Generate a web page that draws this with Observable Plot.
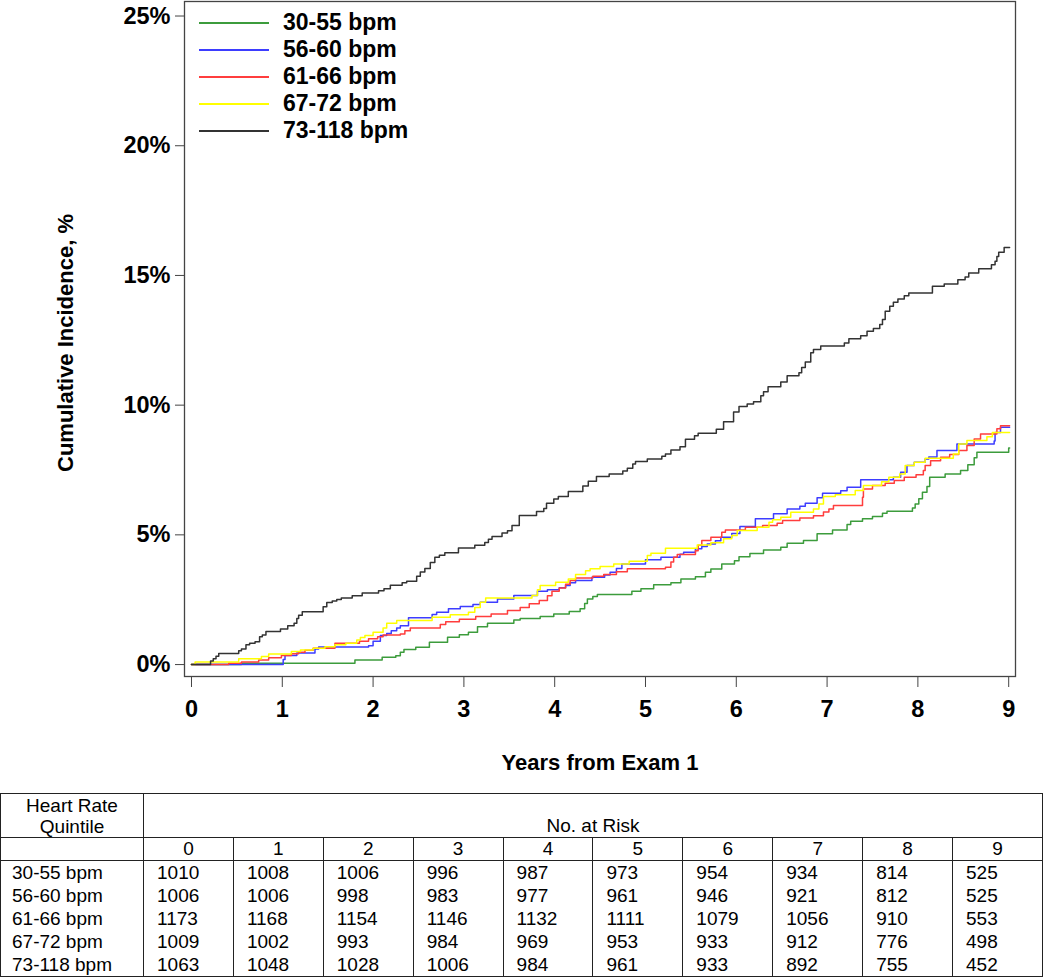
<!DOCTYPE html>
<html><head><meta charset="utf-8">
<script src="https://cdn.jsdelivr.net/npm/d3@7"></script>
<script src="https://cdn.jsdelivr.net/npm/@observablehq/plot@0.6"></script>
<style>
body{margin:0;background:#fff;font-family:"Liberation Sans",Arial,sans-serif;color:#000;}
#wrap{position:relative;width:1050px;}
#legend{position:absolute;left:199px;top:9px;font-size:23px;font-weight:bold;}
#legend .row{display:flex;align-items:center;height:27px;}
#legend .sw{display:block;width:70px;height:2px;margin-right:14px;}
table{border-collapse:collapse;margin-top:3px;width:1042px;table-layout:fixed;font-size:19px;}
td{border-left:1px solid #222;border-right:1px solid #222;padding:0 0 0 13px;height:23px;line-height:20px;white-space:nowrap;}
tr.h1 td{height:43px;border-top:1px solid #222;border-bottom:1px solid #222;}
tr.h1 td.q{text-align:center;padding:0;line-height:21px;vertical-align:middle;}
tr.h1 td.nr{text-align:center;padding:0;vertical-align:bottom;line-height:22px;}
tr.h2 td{border-bottom:1px solid #222;text-align:center;padding:0;height:22px;}
tr.last td{border-bottom:1px solid #222;}
td.lab{padding-left:11px;}
</style></head><body>
<div id="wrap"><div id="chart"></div><div id="legend"></div></div>
<table id="risk"></table>
<script>
// ---- Data ----
const groups = ["30-55 bpm","56-60 bpm","61-66 bpm","67-72 bpm","73-118 bpm"];
const colors = ["#3c9c3c","#3d3dff","#ff3d3d","#ffff00","#333333"];

// Cumulative incidence step curves (year, %)
const hr30_55 = [[0,0],[0.55,0.05],[1.80,0.18],[2.10,0.28],[2.25,0.34],[2.30,0.47],[2.34,0.58],[2.47,0.67],[2.62,0.86],[2.82,1.05],[2.95,1.15],[3.05,1.25],[3.15,1.46],[3.26,1.59],[3.55,1.72],[3.62,1.78],[3.84,1.85],[3.99,1.95],[4.16,2.05],[4.28,2.15],[4.33,2.35],[4.36,2.53],[4.42,2.62],[4.47,2.70],[4.85,2.83],[4.95,2.92],[5.09,3.08],[5.28,3.15],[5.39,3.30],[5.55,3.39],[5.66,3.56],[5.72,3.68],[5.84,3.88],[5.98,4.00],[6.03,4.16],[6.15,4.28],[6.30,4.42],[6.49,4.52],[6.56,4.68],[6.74,4.78],[6.89,5.04],[7.06,5.19],[7.22,5.40],[7.26,5.52],[7.39,5.62],[7.50,5.71],[7.61,5.83],[7.66,5.91],[7.94,6.04],[7.97,6.19],[8.01,6.39],[8.05,6.64],[8.10,6.86],[8.13,7.22],[8.30,7.35],[8.47,7.48],[8.55,7.70],[8.62,7.97],[8.65,8.18],[9.00,8.35],[9.01,8.35]];
const hr56_60 = [[0,0],[1.01,0.20],[1.03,0.35],[1.16,0.45],[1.36,0.60],[1.40,0.68],[1.95,0.73],[2.00,0.90],[2.08,1.12],[2.15,1.20],[2.20,1.30],[2.26,1.41],[2.30,1.50],[2.39,1.80],[2.65,1.93],[2.70,2.02],[2.83,2.15],[2.96,2.24],[3.10,2.32],[3.18,2.40],[3.37,2.53],[3.55,2.66],[3.81,2.83],[3.92,2.88],[4.05,2.96],[4.12,3.05],[4.17,3.15],[4.23,3.24],[4.41,3.37],[4.55,3.45],[4.61,3.56],[4.68,3.70],[4.74,3.88],[5.00,4.04],[5.17,4.14],[5.38,4.25],[5.42,4.33],[5.55,4.46],[5.62,4.55],[5.68,4.65],[5.77,4.77],[5.83,4.91],[5.95,5.05],[6.04,5.32],[6.21,5.62],[6.41,5.81],[6.56,6.00],[6.70,6.10],[6.76,6.22],[6.89,6.43],[6.95,6.60],[7.15,6.70],[7.22,6.84],[7.37,7.12],[7.73,7.22],[7.81,7.41],[7.88,7.67],[7.96,7.80],[8.08,7.92],[8.12,8.00],[8.21,8.25],[8.43,8.50],[8.84,8.62],[8.85,8.95],[8.91,9.15],[9.01,9.15]];
const hr61_66 = [[0,0],[0.41,0.05],[0.55,0.10],[0.74,0.18],[0.85,0.26],[0.99,0.35],[1.10,0.42],[1.18,0.47],[1.25,0.55],[1.34,0.63],[1.58,0.82],[1.85,0.90],[1.95,1.00],[2.05,1.07],[2.11,1.14],[2.30,1.18],[2.35,1.30],[2.41,1.41],[2.74,1.54],[2.80,1.65],[2.95,1.75],[3.13,1.85],[3.30,1.95],[3.48,2.08],[3.62,2.20],[3.72,2.34],[3.83,2.47],[3.92,2.65],[3.97,2.83],[4.05,2.95],[4.12,3.10],[4.17,3.24],[4.23,3.34],[4.42,3.40],[4.54,3.47],[4.68,3.58],[4.80,3.69],[5.22,3.75],[5.28,3.95],[5.31,4.14],[5.35,4.24],[5.55,4.39],[5.58,4.60],[5.62,4.78],[5.72,4.91],[5.84,5.10],[5.88,5.19],[6.10,5.29],[6.29,5.36],[6.45,5.45],[6.51,5.55],[6.70,5.65],[6.85,5.74],[6.96,5.88],[7.02,6.00],[7.07,6.13],[7.39,6.45],[7.40,6.77],[7.50,6.90],[7.64,6.99],[7.74,7.10],[7.85,7.22],[7.98,7.32],[8.06,7.48],[8.08,7.67],[8.14,7.86],[8.25,7.99],[8.35,8.10],[8.45,8.25],[8.54,8.44],[8.62,8.70],[8.69,8.89],[8.87,9.09],[8.91,9.21],[9.01,9.21]];
const hr67_72 = [[0,0],[0.04,0.10],[0.52,0.22],[0.77,0.31],[0.85,0.41],[1.10,0.50],[1.20,0.56],[1.34,0.63],[1.47,0.69],[1.58,0.76],[1.70,0.82],[1.82,0.95],[1.86,1.04],[1.91,1.12],[2.00,1.25],[2.11,1.41],[2.15,1.59],[2.26,1.70],[2.65,1.82],[2.85,1.92],[3.05,2.02],[3.12,2.20],[3.18,2.40],[3.24,2.57],[3.75,2.66],[3.81,2.88],[3.84,3.05],[4.01,3.17],[4.15,3.30],[4.23,3.47],[4.34,3.62],[4.39,3.69],[4.50,3.78],[4.65,3.88],[4.82,3.98],[5.02,4.20],[5.06,4.29],[5.22,4.48],[5.57,4.61],[5.72,4.70],[5.86,4.85],[5.95,4.98],[6.01,5.17],[6.23,5.29],[6.36,5.49],[6.40,5.58],[6.49,5.68],[6.60,5.87],[6.85,6.00],[6.91,6.19],[6.96,6.48],[7.09,6.55],[7.31,6.71],[7.40,6.90],[7.60,7.05],[7.68,7.22],[7.80,7.35],[7.86,7.67],[7.96,7.80],[8.08,7.95],[8.39,8.12],[8.45,8.50],[8.54,8.64],[8.76,8.78],[8.82,8.95],[9.01,8.95]];
const hr73_118 = [[0,0],[0.21,0.14],[0.24,0.22],[0.27,0.32],[0.30,0.43],[0.52,0.53],[0.55,0.60],[0.60,0.76],[0.64,0.82],[0.70,0.88],[0.75,1.07],[0.78,1.14],[0.82,1.27],[0.98,1.37],[1.06,1.50],[1.13,1.59],[1.16,1.78],[1.18,1.90],[1.22,2.04],[1.45,2.23],[1.49,2.39],[1.55,2.45],[1.60,2.51],[1.65,2.57],[1.77,2.65],[1.88,2.76],[2.06,2.85],[2.12,2.92],[2.19,3.06],[2.32,3.15],[2.37,3.21],[2.48,3.40],[2.52,3.57],[2.57,3.70],[2.63,3.93],[2.68,4.14],[2.73,4.21],[2.79,4.31],[2.94,4.49],[3.12,4.60],[3.23,4.71],[3.27,4.83],[3.31,4.94],[3.42,5.07],[3.48,5.16],[3.53,5.36],[3.61,5.75],[3.80,5.90],[3.88,6.02],[3.91,6.22],[3.99,6.38],[4.04,6.48],[4.15,6.67],[4.31,6.88],[4.37,7.07],[4.46,7.25],[4.60,7.35],[4.75,7.46],[4.80,7.57],[4.86,7.73],[4.89,7.83],[5.02,7.92],[5.18,8.03],[5.22,8.12],[5.28,8.27],[5.38,8.40],[5.44,8.69],[5.54,8.82],[5.58,8.92],[5.78,9.07],[5.86,9.36],[5.97,9.74],[6.03,9.95],[6.12,10.04],[6.19,10.13],[6.27,10.36],[6.30,10.52],[6.35,10.71],[6.49,10.89],[6.56,11.13],[6.69,11.25],[6.72,11.45],[6.76,11.66],[6.82,12.02],[6.85,12.15],[6.93,12.28],[7.19,12.40],[7.24,12.56],[7.37,12.68],[7.44,12.85],[7.51,12.95],[7.58,13.11],[7.61,13.30],[7.64,13.62],[7.69,13.81],[7.73,13.97],[7.78,14.09],[7.85,14.22],[7.90,14.32],[8.16,14.58],[8.29,14.67],[8.44,14.83],[8.52,14.94],[8.56,15.09],[8.67,15.26],[8.81,15.41],[8.85,15.55],[8.87,15.73],[8.89,15.89],[8.95,16.08],[9.01,16.08]];

const xTicks = [0,1,2,3,4,5,6,7,8,9];
const yTicks = [0,5,10,15,20,25];

// Number at risk table
const riskYears = [0,1,2,3,4,5,6,7,8,9];
const risk30_55 = [1010,1008,1006,996,987,973,954,934,814,525];
const risk56_60 = [1006,1006,998,983,977,961,946,921,812,525];
const risk61_66 = [1173,1168,1154,1146,1132,1111,1079,1056,910,553];
const risk67_72 = [1009,1002,993,984,969,953,933,912,776,498];
const risk73_118 = [1063,1048,1028,1006,984,961,933,892,755,452];

// ---- Build ----
const curves = [hr30_55, hr56_60, hr61_66, hr67_72, hr73_118];
const data = curves.flatMap((c, i) => c.map(([t, v]) => ({group: groups[i], t, v})));

const chart = Plot.plot({
  width: 1050, height: 790,
  marginLeft: 184, marginRight: 35, marginTop: 1, marginBottom: 114,
  style: {fontFamily: "'Liberation Sans', Arial, sans-serif", fontSize: "22px", fontWeight: "bold", color: "#000", background: "#fff"},
  x: {domain: [-0.077, 9.075]},
  y: {domain: [-0.46, 25.56]},
  color: {domain: groups, range: colors},
  marks: [
    Plot.line(data, {x: "t", y: "v", z: "group", stroke: "group", curve: "step-after", strokeWidth: 1.5}),
    Plot.frame({stroke: "#444", strokeWidth: 1.3}),
    Plot.axisY({ticks: yTicks, tickFormat: d => d + "%", tickSize: 9, tickPadding: 5, label: null, stroke: "#444", fontSize: 23.5}),
    Plot.axisX({ticks: xTicks, tickSize: 11, tickPadding: 13, label: null, stroke: "#444", fontSize: 23.5}),
    Plot.text(["Cumulative Incidence, %"], {text: d => d, frameAnchor: "left", textAnchor: "middle", lineAnchor: "middle", dx: -119, dy: 4, rotate: -90, fontSize: 22, fontWeight: "bold"}),
    Plot.text(["Years from Exam 1"], {text: d => d, frameAnchor: "bottom", lineAnchor: "middle", dy: 86, fontSize: 22, fontWeight: "bold"})
  ]
});
document.getElementById("chart").appendChild(chart);

// legend
const leg = document.getElementById("legend");
groups.forEach((g, i) => {
  const row = document.createElement("div"); row.className = "row";
  const sw = document.createElement("span"); sw.className = "sw"; sw.style.background = colors[i];
  const tx = document.createElement("span"); tx.textContent = g;
  row.appendChild(sw); row.appendChild(tx); leg.appendChild(row);
});

// table
const tbl = document.getElementById("risk");
const colg = document.createElement("colgroup");
const c0 = document.createElement("col"); c0.style.width = "143px"; colg.appendChild(c0);
riskYears.forEach(() => { const c = document.createElement("col"); c.style.width = "89.9px"; colg.appendChild(c); });
tbl.appendChild(colg);
let tr = document.createElement("tr"); tr.className = "h1";
tr.innerHTML = `<td class="q">Heart Rate<br>Quintile</td><td class="nr" colspan="${riskYears.length}">No. at Risk</td>`;
tbl.appendChild(tr);
tr = document.createElement("tr"); tr.className = "h2";
tr.innerHTML = "<td></td>" + riskYears.map(y => `<td>${y}</td>`).join("");
tbl.appendChild(tr);
const riskRows = [risk30_55, risk56_60, risk61_66, risk67_72, risk73_118];
riskRows.forEach((r, i) => {
  const row = document.createElement("tr");
  if (i === riskRows.length - 1) row.className = "last";
  row.innerHTML = `<td class="lab">${groups[i]}</td>` + r.map(v => `<td>${v}</td>`).join("");
  tbl.appendChild(row);
});
</script>
</body></html>
